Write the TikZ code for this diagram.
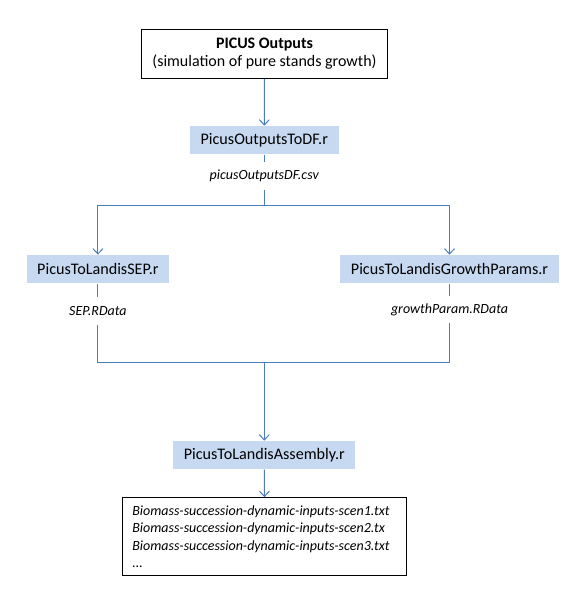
\documentclass[tikz,border=0pt]{standalone}
\usepackage{fontspec}
\setmainfont{Carlito}
\usetikzlibrary{arrows.meta}
\definecolor{flowblue}{HTML}{4A7EBB}
\definecolor{scriptfill}{HTML}{C6D9F1}

\begin{document}
\begin{tikzpicture}[x=0.75pt,y=-0.75pt,>={Straight Barb[length=4pt,width=7.5pt]},
    flow/.style={draw=flowblue,line width=0.75pt},
    main node/.style={draw,line width=0.9pt,align=center,minimum width=185pt,minimum height=36.75pt,font=\fontsize{12}{13.5}\selectfont},
    script node/.style={fill=scriptfill,minimum height=21.4pt,inner xsep=8pt,font=\fontsize{12.1}{14}\selectfont},
    data node/.style={minimum height=20.5pt,inner sep=0pt,font=\fontsize{10.5}{13}\selectfont\itshape},
    files node/.style={draw,line width=0.75pt,align=left,text width=198.3pt,inner xsep=7.5pt,minimum height=58.7pt,font=\fontsize{10.5}{13}\selectfont\itshape}]
    \useasboundingbox (0,0) rectangle (571,597);

    \node[main node] (out) at (264.5,53.7) {\textbf{PICUS Outputs}\\(simulation of pure stands growth)};
    \node[script node] (df) at (264.3,140.2) {PicusOutputsToDF.r};
    \node[data node] (csv) at (264.3,176) {picusOutputsDF.csv};
    \coordinate (split) at (264.3,205.3);
    \node[script node] (sep) at (97.9,269.2) {PicusToLandisSEP.r};
    \node[script node] (gp) at (449.5,269.2) {PicusToLandisGrowthParams.r};
    \node[data node] (sepdata) at (97.9,311) {SEP.RData};
    \node[data node] (gpdata) at (449.5,309.5) {growthParam.RData};
    \coordinate (merge) at (264.3,362.5);
    \node[script node] (asm) at (264.3,455.2) {PicusToLandisAssembly.r};
    \node[files node] (files) at (264.5,536.8) {Biomass-succession-dynamic-inputs-scen1.txt\\
        Biomass-succession-dynamic-inputs-scen2.tx\\
        Biomass-succession-dynamic-inputs-scen3.txt\\
        ...};

    % connectors
    \draw[flow,->] (out) -- (df);
    \draw[flow] (df) -- (csv);
    \draw[flow,->] (csv) -- (split) -| (sep);
    \draw[flow,->] (split) -| (gp);
    \draw[flow] (sep) -- (sepdata);
    \draw[flow] (gp) -- (gpdata);
    \draw[flow] (sepdata) |- (merge);
    \draw[flow] (gpdata) |- (merge);
    \draw[flow,->] (merge) -- (asm);
    \draw[flow,->] (asm) -- (files);
\end{tikzpicture}
\end{document}
